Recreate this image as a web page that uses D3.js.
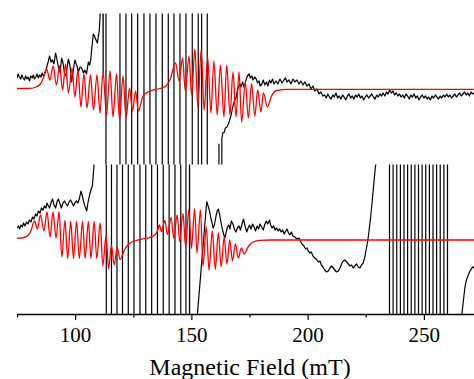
<!DOCTYPE html>
<html>
<head>
<meta charset="utf-8">
<script src="https://cdn.jsdelivr.net/npm/d3@7"></script>
<style>
  html, body { margin: 0; padding: 0; background: #fff; }
  svg { display: block; }
</style>
</head>
<body>
<svg id="chart" width="474" height="379"></svg>
<script>
// Field axis ticks (mT)
const fieldTicks = [100, 150, 200, 250];
const minorFieldTicks = [75, 125, 175, 225];

// Upper spectrum: simulation [field mT, intensity a.u.]
const topSimulated = [
  [75, 0.5], [80.6, 0.7], [83.2, 2], [84.9, 4.5], [86.2, 10],
  [87.7, 20], [89.2, 9], [90.5, 23], [92.0, 4], [93.3, 23], [94.6, -1], [95.9, 25], [97.1, -4],
  [98.7, 21], [99.9, -8], [101.2, 19], [102.5, -18], [103.8, 15], [105.1, -19], [106.6, 14],
  [107.9, -21], [109.4, 14], [110.7, -24], [112.0, 17], [113.5, -26], [115.0, 18], [116.3, -28],
  [117.8, 15], [119.1, -30], [120.6, 13], [121.9, -29], [123.4, 1], [124.7, -22], [126.0, -2],
  [127.2, -22], [129.2, -7], [132.2, -2], [136.5, 0.5], [139.1, 3], [140.8, 9],
  [143.2, 26], [144.7, 8], [146.2, 31], [147.4, -2], [149.0, 33], [150.1, -6], [151.5, 40],
  [152.8, -18], [154.2, 39], [155.5, -21], [157.0, 32], [158.4, -24], [159.7, 28], [161.1, -26],
  [162.5, 24], [164.0, -28], [165.2, 24], [166.6, -26], [167.9, 17], [169.2, -28], [170.5, 17],
  [171.6, -33], [173.2, 7], [174.5, -29], [175.9, 5], [177.3, -27], [178.5, -1], [179.9, -23],
  [181.0, -4], [182.7, -18], [184.5, -7], [186.7, -1.5], [191.0, -0.3], [271.6, -0.3]
];

// Upper spectrum: measured trace (±900 = far off scale)
const topMeasured = [
  [75.0, 11], [75.5, 15], [76.0, 12], [76.6, 10], [77.1, 14], [77.6, 11], [78.2, 9], [78.7, 13],
  [79.3, 10], [79.8, 12], [80.4, 8], [80.9, 13], [81.5, 11], [82.0, 14], [82.5, 10], [83.1, 12],
  [83.6, 15], [84.2, 11], [84.7, 14], [85.3, 12], [85.8, 16], [86.3, 13], [86.9, 15],
  [87.5, 19], [87.9, 23], [88.4, 27], [89.0, 33], [89.6, 27], [90.3, 29], [90.9, 25], [91.6, 36],
  [92.4, 27], [92.8, 22], [93.5, 17], [94.2, 31], [94.8, 26], [95.4, 16], [96.1, 13], [96.6, 22],
  [97.1, 30], [97.8, 23], [98.5, 7], [99.1, 17], [99.9, 29], [100.8, 23], [101.4, 17], [102.1, 22],
  [102.8, 21], [103.6, 16], [104.2, 19], [104.9, 15], [105.7, 27], [106.2, 24], [106.7, 29],
  [107.1, 39], [107.8, 55], [108.3, 53], [109.0, 49], [109.6, 46], [110.0, 53], [110.4, 59],
  [110.9, 80], [111.0, 900], [112.07, 16], [112.15, 900],
  [113.27, 900], [113.27, -900], [119.29, -900], [119.29, 900], [121.87, 900], [121.87, -900],
  [124.32, -900], [124.32, 900], [126.90, 900], [126.90, -900], [129.61, -900], [129.61, 900],
  [132.19, 900], [132.19, -900], [134.77, -900], [134.77, 900], [137.48, 900], [137.48, -900],
  [140.06, -900], [140.06, 900], [142.51, 900], [142.51, -900], [145.09, -900], [145.09, 900],
  [147.67, 900], [147.67, -900], [150.38, -900], [150.38, 900], [152.96, 900], [152.96, -900],
  [154.42, -900], [154.42, 900], [156.83, 900], [156.83, -900],
  [161.86, -900], [161.86, -55], [162.25, -900], [163.0, -900], [163.1, -50],
  [163.5, -44], [164.2, -43], [164.6, -39], [165.3, -38], [166.1, -34], [166.6, -30], [167.1, -26],
  [167.8, -18], [168.5, -12], [169.3, -8], [169.8, -1], [170.3, 2], [170.9, 5], [171.4, 2],
  [172.0, 7], [172.8, 1], [173.5, 9], [174.1, 13], [174.8, 15], [175.4, 11], [176.0, 13],
  [176.5, 9], [177.2, 12], [177.9, 10], [178.5, 6], [179.1, 8], [179.6, 3], [180.3, 5], [180.9, 9],
  [181.6, 4], [182.3, 7], [182.9, 3], [183.6, 9], [184.2, 6], [184.9, 10], [185.5, 5], [186.4, 8],
  [187.2, 5], [188.1, 10], [189.0, 6], [189.8, 9], [190.5, 11], [191.1, 7], [192.0, 9], [192.8, 5],
  [193.7, 10], [194.5, 7], [195.4, 9], [196.3, 5], [197.1, 8], [198.0, 4], [198.8, 7], [199.7, 3],
  [200.6, 5], [201.4, 0], [202.3, 3], [203.1, -2], [204.0, 0], [204.9, -5], [205.7, -3], [206.6, -7],
  [207.3, -6], [208.0, -9], [208.7, -5], [209.4, -8], [210.1, -10], [210.8, -6], [211.5, -8],
  [212.2, -4], [212.9, -9], [213.6, -7], [214.3, -10], [215.0, -6], [215.7, -8], [216.4, -11],
  [217.1, -7], [217.8, -5], [218.5, -9], [219.2, -7], [219.9, -10], [220.6, -6], [221.3, -8],
  [222.0, -5], [222.7, -9], [223.4, -7], [224.1, -11], [224.8, -8], [225.5, -6], [226.2, -9],
  [226.9, -7], [227.6, -5], [228.3, -8], [229.0, -10], [229.7, -6], [230.4, -8], [231.1, -5],
  [231.8, -7], [232.5, -4], [233.2, -7], [233.9, -3], [234.6, -5], [235.3, -1], [236.0, -4],
  [236.7, -2], [237.4, -6], [238.1, -4], [238.8, -7], [239.5, -5], [240.2, -8], [240.9, -6],
  [241.6, -9], [242.3, -5], [243.0, -7], [243.7, -10], [244.4, -6], [245.1, -8], [245.8, -5],
  [246.5, -9], [247.2, -7], [247.9, -11], [248.6, -8], [249.3, -6], [250.0, -9], [250.7, -7],
  [251.4, -10], [252.1, -8], [252.8, -11], [253.5, -7], [254.2, -9], [254.9, -6], [255.6, -8],
  [256.3, -10], [257.0, -7], [257.7, -9], [258.4, -6], [259.1, -8], [259.8, -5], [260.5, -8],
  [261.2, -6], [261.9, -9], [262.6, -7], [263.3, -5], [264.0, -8], [264.7, -6], [265.4, -4],
  [266.1, -7], [266.8, -5], [267.5, -3], [268.2, -6], [268.9, -4], [269.6, -7], [270.3, -3],
  [271.0, -5], [271.6, -4]
];

// Lower spectrum: simulation
const bottomSimulated = [
  [75, 1.2], [78.0, 2], [79.9, 4.5], [81.0, 8.5], [82.5, 18.5], [83.8, 10.5], [85.1, 24.5],
  [86.6, 8.5], [87.9, 27.5], [89.2, 2.5], [90.5, 27.5], [91.8, 1.5], [93.1, 27.5], [94.3, -17.5],
  [95.6, 19], [96.8, -19], [98.1, 18], [99.3, -19], [100.6, 18], [101.8, -19], [103.2, 18],
  [104.3, -19], [105.7, 18], [106.8, -19], [108.2, 18], [109.3, -19], [110.8, 16.5], [111.9, -26.5],
  [113.3, 4], [114.4, -29.5], [115.6, -5.5], [116.8, -25.5], [118.1, -8], [119.3, -20],
  [121.4, -9.5], [124.3, -2.5], [127.9, 0], [132.2, 2.2], [134.3, 4.5], [135.4, 8.5],
  [136.2, 14.5], [137.2, 8], [138.6, 19], [139.7, 5], [141.3, 22], [142.4, 1.2], [143.9, 24.5],
  [145.0, -2.2], [146.4, 26.2], [147.5, -7], [148.9, 29.5], [150.0, -8.8], [151.4, 30.5],
  [152.4, -13.5], [153.9, 29.5], [155.0, -26.5], [156.4, 12.8], [157.6, -30.5], [159.0, 8.5],
  [160.3, -30], [161.6, 6.5], [162.8, -27.2], [164.1, 2.5], [165.3, -24.5], [166.5, -0.5],
  [167.7, -21.5], [168.9, -4.5], [170.2, -18.5], [171.5, -8.5], [172.7, -14.5], [174.5, -7],
  [176.6, -2.5], [179.5, -0.8], [183.8, -0.5], [271.6, -0.5]
];

// Lower spectrum: measured trace (±900 = far off scale)
const bottomMeasured = [
  [75.0, 11.5], [75.6, 13.5], [76.1, 10.5], [76.7, 14.5], [77.3, 12.5], [77.8, 16.5], [78.4, 13.5],
  [79.1, 17.5], [79.7, 15.5], [80.4, 19.5], [81.0, 17.5], [81.7, 22.5], [82.3, 20.5], [83.0, 25.5],
  [83.6, 23.5], [84.2, 28.5], [84.9, 26.5], [85.5, 31.5], [86.2, 29.5], [86.8, 33.5], [87.5, 31.5],
  [87.9, 36.5], [88.5, 33.5], [89.0, 31.5], [89.6, 36.5], [90.3, 40.5], [90.9, 34.5], [91.6, 31.5],
  [92.2, 37.5], [92.8, 40.5], [93.5, 35.5], [94.1, 31.5], [94.8, 36.5], [95.4, 38.5], [96.1, 35.5],
  [96.7, 33.5], [97.4, 37.5], [98.0, 39.5], [98.7, 36.5], [99.3, 33.5], [99.9, 36.5], [100.6, 38.5],
  [101.2, 36.5], [101.9, 41.5], [102.5, 48.5], [103.1, 43.5], [103.6, 38.5], [104.2, 33.5],
  [105.0, 28.5], [105.5, 36.5], [106.2, 44.5], [106.8, 49.5], [107.4, 53.5], [107.8, 64.5],
  [108.1, 73.5], [108.3, 900],
  [113.40, 900], [113.40, -900], [115.64, -900], [115.64, 900], [118.0, 900], [118.0, -900],
  [120.37, -900], [120.37, 900], [122.86, 900], [122.86, -900], [125.31, -900], [125.31, 900],
  [127.89, 900], [127.89, -900], [130.38, -900], [130.38, 900], [132.92, 900], [132.92, -900],
  [135.41, -900], [135.41, 900], [137.91, 900], [137.91, -900], [140.44, -900], [140.44, 900],
  [142.94, 900], [142.94, -900], [145.43, -900], [145.43, 900], [147.67, 900], [147.67, -900],
  [149.18, -900], [149.18, 900], [149.24, 900], [149.24, -900],
  [152.5, -900], [152.55, -76], [156.6, 37.8],
  [157.2, 33.5], [157.7, 29.5], [158.2, 23.5], [158.7, 18.5], [159.4, 11.5], [159.9, 14.5],
  [160.6, 23.5], [161.1, 28.5], [161.6, 30.5], [162.1, 25.5], [162.7, 17.5], [163.4, 9.5],
  [164.0, 4.5], [164.4, 1.5], [165.0, 7.5], [165.5, 12.5], [166.1, 14.5], [166.6, 10.5],
  [167.2, 18.5], [167.9, 15.5], [168.5, 10.5], [169.2, 7.5], [169.8, 11.5], [170.5, 13.5],
  [171.1, 9.5], [171.8, 15.5], [172.4, 20.5], [173.1, 13.5], [173.8, 7.5], [174.4, 11.5],
  [175.0, 14.5], [175.7, 10.5], [176.3, 15.5], [177.0, 12.5], [177.6, 8.5], [178.3, 13.5],
  [178.9, 10.5], [179.5, 15.5], [180.2, 12.5], [180.9, 9.5], [181.5, 14.5], [182.2, 18.5],
  [182.8, 15.5], [183.6, 19.5], [184.1, 14.5], [184.7, 11.5], [185.4, 13.5], [186.0, 9.5],
  [186.7, 11.5], [187.3, 8.5], [188.0, 10.5], [188.6, 7.5], [189.3, 9.5], [189.9, 5.5],
  [190.6, 8.5], [191.1, 10.5], [191.8, 6.5], [192.4, 4.5], [193.0, 7.5], [193.7, 3.5],
  [194.5, 2.5], [195.4, 0.5], [196.3, 1.5], [196.9, -1.5], [197.6, -4.5], [198.4, -6.5],
  [199.1, -9.5], [199.7, -8.5], [200.3, -11.5], [201.0, -13.5], [201.6, -12.5], [202.3, -16.5],
  [203.1, -18.5], [204.0, -20.5], [204.6, -22.5], [205.3, -21.5], [205.9, -25.5], [206.6, -27.5],
  [207.4, -30.5], [208.2, -32.5], [208.9, -31.5], [209.6, -28.5], [210.3, -26.5], [211.0, -28.5],
  [211.7, -30.5], [212.4, -32.5], [213.2, -31.5], [213.9, -28.5], [214.6, -24.5], [215.3, -21.5],
  [216.0, -20.5], [216.8, -22.5], [217.5, -24.5], [218.2, -26.5], [218.9, -25.5], [219.6, -28.5],
  [220.3, -26.5], [221.1, -24.5], [221.8, -27.5], [222.5, -28.5], [223.2, -25.5], [223.9, -23.5],
  [224.6, -17.5], [225.4, -7.5], [226.1, 2.5], [226.6, 12.5], [227.1, 22.5], [227.7, 36.5],
  [228.2, 49.5], [228.7, 61.5], [229.1, 71.5], [229.4, 76.5], [229.9, 200], [230.2, 900],
  [235.22, 900], [235.22, -900], [236.76, -900], [236.76, 900], [238.33, 900], [238.33, -900],
  [239.90, -900], [239.90, 900], [241.45, 900], [241.45, -900], [243.0, -900], [243.0, 900],
  [244.57, 900], [244.57, -900], [246.14, -900], [246.14, 900], [247.69, 900], [247.69, -900],
  [249.24, -900], [249.24, 900], [250.81, 900], [250.81, -900], [252.38, -900], [252.38, 900],
  [253.93, 900], [253.93, -900], [255.47, -900], [255.47, 900], [257.04, 900], [257.04, -900],
  [258.61, -900], [258.61, 900], [260.16, 900], [260.16, -900],
  [266.1, -900], [266.27, -76], [267.69, -47.2], [268.3, -40.5], [269.1, -35.5], [269.84, -31.5],
  [270.6, -28.8], [271.3, -27.2], [271.6, -28.5]
];

const svg = d3.select("#chart");
const serif = "'Liberation Serif', 'Times New Roman', Times, serif";

const x = d3.scaleLinear().domain([75, 271.56]).range([17, 474]);

const panels = [
  { id: "upper", sim: topSimulated, meas: topMeasured,
    y: d3.scaleLinear().domain([-75.5, 75.5]).range([164.5, 13.5]) },
  { id: "lower", sim: bottomSimulated, meas: bottomMeasured,
    y: d3.scaleLinear().domain([-74.5, 75]).range([314, 164.5]) }
];

const defs = svg.append("defs");

panels.forEach(p => {
  const [y0, y1] = p.y.range();
  defs.append("clipPath").attr("id", "clip-" + p.id)
    .append("rect")
    .attr("x", x.range()[0]).attr("y", y1)
    .attr("width", x.range()[1] - x.range()[0]).attr("height", y0 - y1);

  const g = svg.append("g").attr("clip-path", `url(#clip-${p.id})`);

  const measLine = d3.line().x(d => x(d[0])).y(d => p.y(d[1])).curve(d3.curveLinear);
  const simLine = d3.line().x(d => x(d[0])).y(d => p.y(d[1])).curve(d3.curveMonotoneX);

  g.append("path").datum(p.meas)
    .attr("d", measLine)
    .attr("fill", "none")
    .attr("stroke", "#000")
    .attr("stroke-width", 1.2)
    .attr("stroke-linejoin", "round");

  g.append("path").datum(p.sim)
    .attr("d", simLine)
    .attr("fill", "none")
    .attr("stroke", "#ff0000")
    .attr("stroke-width", 1.3);
});

// Field axis
const axisY = 314;
const axisG = svg.append("g").attr("transform", `translate(0,${axisY})`);

axisG.append("g")
  .call(d3.axisBottom(x).tickValues(minorFieldTicks).tickSize(3.5).tickSizeOuter(0).tickFormat(""))
  .call(s => s.select(".domain").remove())
  .call(s => s.selectAll("line").attr("stroke", "#000").attr("stroke-width", 1.2));

axisG.append("g")
  .call(d3.axisBottom(x).tickValues(fieldTicks).tickSize(6).tickSizeOuter(0))
  .call(s => s.select(".domain").attr("stroke", "#000").attr("stroke-width", 1.3))
  .call(s => s.selectAll("line").attr("stroke", "#000").attr("stroke-width", 1.2))
  .call(s => s.selectAll("text")
    .attr("y", 27.7).attr("dy", null)
    .attr("fill", "#000")
    .style("font-family", serif)
    .style("font-size", "21px"));

svg.append("text")
  .attr("x", 250).attr("y", 375)
  .attr("text-anchor", "middle")
  .style("font-family", serif)
  .style("font-size", "24px")
  .attr("fill", "#000")
  .text("Magnetic Field (mT)");
</script>
</body>
</html>
